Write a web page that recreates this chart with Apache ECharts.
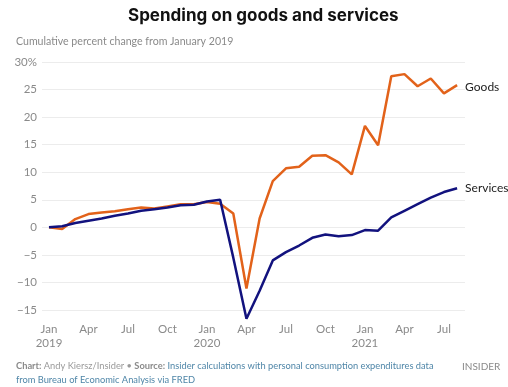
<!DOCTYPE html>
<html><head><meta charset="utf-8">
<script src="https://cdn.jsdelivr.net/npm/echarts@6/dist/echarts.min.js"></script>
<style>html,body{margin:0;padding:0;background:#fff}#c{width:508px;height:387px}</style>
</head><body><div id="c"></div>
<script>
const monthIndex = [0,1,2,3,4,5,6,7,8,9,10,11,12,13,14,15,16,17,18,19,20,21,22,23,24,25,26,27,28,29,30,31];
const goods = [0, -0.3, 1.5, 2.4, 2.7, 2.9, 3.3, 3.6, 3.4, 3.8, 4.2, 4.2, 4.6, 4.3, 2.5, -11.1, 1.6, 8.4, 10.7, 11.0, 13.0, 13.1, 11.8, 9.6, 18.4, 14.9, 27.4, 27.8, 25.6, 27.0, 24.3, 25.8];
const services = [0, 0.2, 0.8, 1.2, 1.6, 2.1, 2.5, 3.0, 3.3, 3.6, 4.0, 4.1, 4.7, 5.0, -5.5, -16.6, -11.5, -6.0, -4.5, -3.3, -1.9, -1.3, -1.6, -1.4, -0.5, -0.6, 1.8, 3.0, 4.2, 5.4, 6.4, 7.1];
const xTickValues = [0,3,6,9,12,15,18,21,24,27,30];
const xTickLabels = ["Jan\n2019","Apr","Jul","Oct","Jan\n2020","Apr","Jul","Oct","Jan\n2021","Apr","Jul"];

const chart = echarts.init(document.getElementById('c'));
const FONT = 'Lato, "Open Sans", sans-serif';
const TFONT = 'Inter, sans-serif';
chart.setOption({
  animation: false,
  textStyle: {fontFamily: FONT},
  grid: {left: 42, right: 43, top: 62, bottom: 77},
  xAxis: {
    type: 'value', min: -0.53, max: 31.6,
    axisLine: {show: false}, axisTick: {show: false}, splitLine: {show: false},
    axisLabel: {
      customValues: xTickValues,
      formatter: v => xTickLabels[xTickValues.indexOf(Math.round(v))] || '',
      color: '#8a8a8a', fontSize: 11.5, margin: 12, lineHeight: 14, fontFamily: FONT
    }
  },
  yAxis: {
    type: 'value', min: -15, max: 30, interval: 5,
    axisLine: {show: false}, axisTick: {show: false},
    splitLine: {lineStyle: {color: '#ececec', width: 1}},
    axisLabel: {
      formatter: v => v === 30 ? '30%' : (v < 0 ? '\u2212' + Math.abs(v) : String(v)),
      color: '#8a8a8a', fontSize: 11.5, margin: 5, fontFamily: FONT
    }
  },
  series: [
    {name: 'Goods', type: 'line', clip: false, symbol: 'none',
     data: monthIndex.map((m,i) => [m, goods[i]]),
     lineStyle: {color: '#e2621a', width: 2.5}, itemStyle: {color: '#e2621a'},
     endLabel: {show: true, formatter: '{a}', color: '#222', fontSize: 12, distance: 8, offset: [0, 2], fontFamily: FONT}},
    {name: 'Services', type: 'line', clip: false, symbol: 'none',
     data: monthIndex.map((m,i) => [m, services[i]]),
     lineStyle: {color: '#12127e', width: 2.5}, itemStyle: {color: '#12127e'},
     endLabel: {show: true, formatter: '{a}', color: '#222', fontSize: 12, distance: 8, fontFamily: FONT}}
  ],
  graphic: [
    {type: 'text', left: 128, top: 7, style: {text: 'Spending on goods and services', fontSize: 17, fontWeight: 'bold', fill: '#111', fontFamily: TFONT}},
    {type: 'text', left: 16, top: 36, style: {text: 'Cumulative percent change from January 2019', fontSize: 10.6, fill: '#8a8a8a', fontFamily: FONT}},
    {type: 'text', left: 16, top: 359, style: {
      text: '{b|Chart:} {g|Andy Kiersz/Insider} {g|•} {b|Source:} {l|Insider calculations with personal consumption expenditures data}\n{l|from Bureau of Economic Analysis via FRED}',
      fontFamily: FONT, fontSize: 9.3, lineHeight: 14,
      rich: {
        b: {fontWeight: 'bold', fill: '#8a8a8a', fontSize: 9.3, fontFamily: FONT},
        g: {fill: '#9a9a9a', fontSize: 9.3, fontFamily: FONT},
        l: {fill: '#4f86a8', fontSize: 9.3, fontFamily: FONT}
      }}},
    {type: 'text', x: 462, y: 362, style: {text: 'INSIDER', fontSize: 10, fill: '#8a8a8a', fontFamily: FONT, letterSpacing: 3.6}}
  ]
});
</script></body></html>
